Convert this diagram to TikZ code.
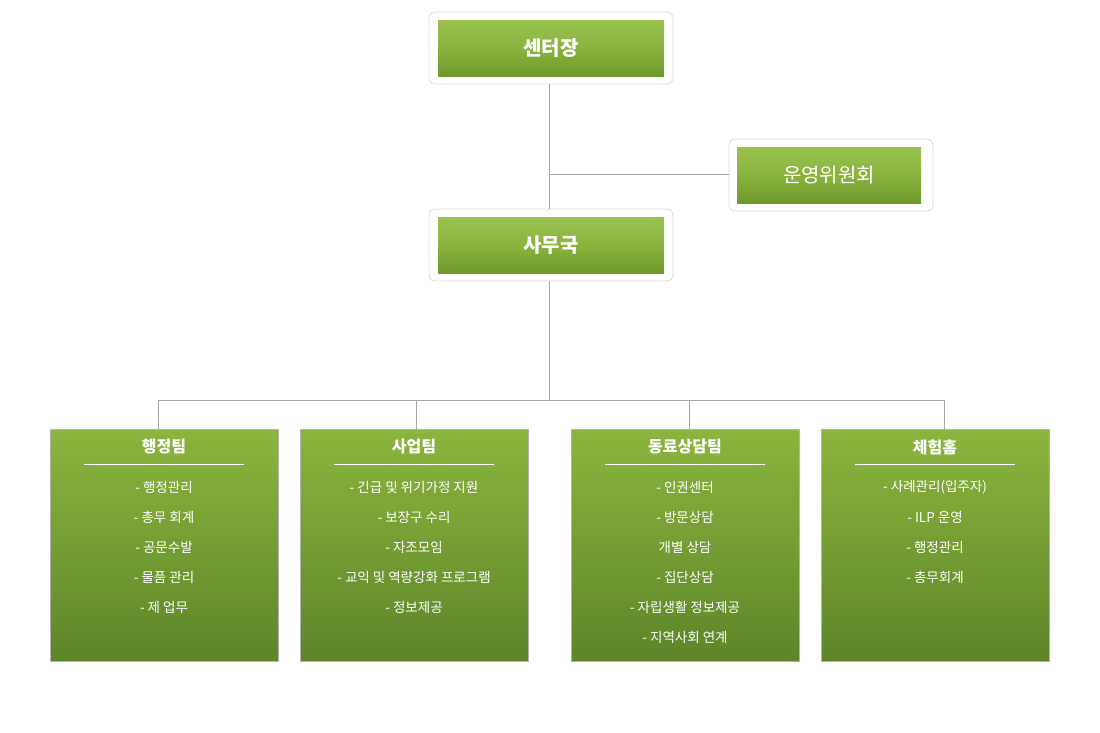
\documentclass[tikz,border=0pt]{standalone}
\usepackage{fontspec}
\setmainfont{Noto Sans CJK KR}
\begin{document}
\begin{tikzpicture}[x=1pt,y=-1pt,
  frame/.style={draw=black!15,fill=white,rounded corners=6pt,line width=0.8pt},
  gbox/.style={draw=none,top color=green1,bottom color=green2,middle color=green3,minimum height=56pt,text=white,font=\fontsize{20}{24}\selectfont\bfseries,inner sep=0pt},
  team/.style={draw=black!30,line width=0.8pt,top color=green4,bottom color=green5,minimum width=228pt,minimum height=232pt,inner sep=0pt},
  ttl/.style={text=white,font=\fontsize{16}{19}\selectfont\bfseries},
  itm/.style={text=white,font=\fontsize{13.5}{16}\selectfont},
  con/.style={draw=black!35,line width=0.7pt}]
\definecolor{green1}{HTML}{9AC150}
\definecolor{green3}{HTML}{8AB33E}
\definecolor{green2}{HTML}{6E9A2C}
\definecolor{green4}{HTML}{8CB53E}
\definecolor{green5}{HTML}{5E8529}
\useasboundingbox (0,0) rectangle (1100,732);
% top
\draw[frame] (429,12) rectangle (673,84);
\node[gbox,minimum width=226pt] (ceo) at (551,48) {센터장};
\draw[frame] (729,139) rectangle (933,211);
\node[gbox,minimum width=184pt,font=\fontsize{20}{24}\selectfont] (com) at (829,175) {운영위원회};
\draw[frame] (429,209) rectangle (673,281);
\node[gbox,minimum width=226pt] (off) at (551,245) {사무국};
\coordinate (c1) at (549,84);
\coordinate (c2) at (549,209);
\coordinate (c3) at (549,174);
\coordinate (c4) at (729,174);
\coordinate (c5) at (549,281);
\coordinate (c6) at (549,400);
\draw[con] (c1)--(c2);
\draw[con] (c3)--(c4);
\draw[con] (c5)--(c6);
\coordinate (h1) at (158,400);
\coordinate (h2) at (944,400);
\draw[con] (h1)--(h2);
% teams
\foreach \n/\x/\t/\items in {
 a/164/행정팀/{- 행정관리,- 총무 회계,- 공문수발,- 물품 관리,- 제 업무},
 b/414/사업팀/{- 긴급 및 위기가정 지원,- 보장구 수리,- 자조모임,- 교익 및 역량강화 프로그램,- 정보제공},
 c/685/동료상담팀/{- 인권센터,- 방문상담,개별 상담,- 집단상담,- 자립생활 정보제공,- 지역사회 연계},
 d/935/체험홈/{- 사례관리(입주자),- ILP 운영,- 행정관리,- 총무회계}}{
  \node[team] (\n) at (\x,545) {};
  \node[ttl] (\n t) at (\x,447) {\t};
  \coordinate (\n l) at (\x-80,464);
  \coordinate (\n r) at (\x+80,464);
  \draw[white,line width=0.8pt] (\n l)--(\n r);
  \foreach \s [count=\i] in \items {
    \node[itm] (\n i\i) at (\x,457+30*\i) {\s};
  }
}
\foreach \n/\x in {a/158,b/416,c/689,d/944}{
  \coordinate (top\n) at (\x,400);
  \coordinate (bot\n) at (\x,429);
  \draw[con] (top\n)--(bot\n);
}
\end{tikzpicture}
\end{document}
